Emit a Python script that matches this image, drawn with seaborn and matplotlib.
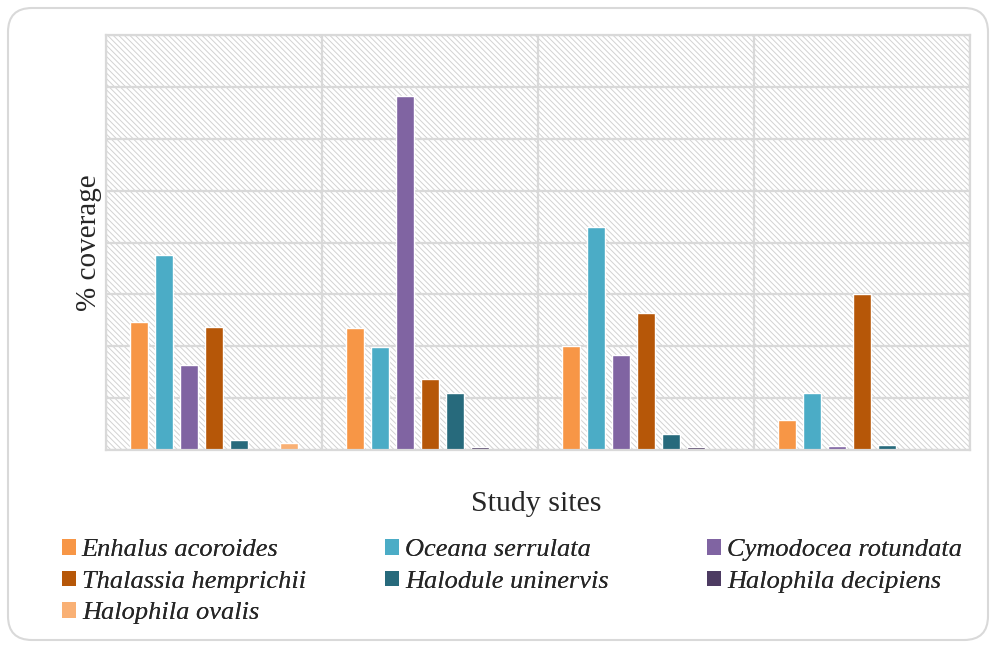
import matplotlib
matplotlib.use("Agg")
import matplotlib.pyplot as plt
from matplotlib.patches import Rectangle, FancyBboxPatch, Patch
from matplotlib.transforms import IdentityTransform
import seaborn as sns
import pandas as pd

sites = ["Site 1", "Site 2", "Site 3", "Site 4"]
species = ["Enhalus acoroides", "Oceana serrulata", "Cymodocea rotundata",
           "Thalassia hemprichii", "Halodule uninervis", "Halophila decipiens",
           "Halophila ovalis"]
colors = ["#F79646", "#4BACC6", "#8064A2", "#B65708", "#276A7C", "#4D3B62", "#F9B074"]

enhalus = [24.7, 23.5, 20.0, 5.8]
oceana = [37.6, 19.9, 43.0, 11.0]
cymodocea = [16.4, 68.2, 18.3, 0.8]
thalassia = [23.7, 13.7, 26.4, 30.1]
halodule = [1.9, 11.0, 3.1, 1.0]
decipiens = [0.0, 0.5, 0.5, 0.0]
ovalis = [1.4, 0.0, 0.0, 0.0]
series = [enhalus, oceana, cymodocea, thalassia, halodule, decipiens, ovalis]

rows = []
for sp, vals in zip(species, series):
    for s, v in zip(sites, vals):
        rows.append({"site": s, "species": sp, "cover": v})
df = pd.DataFrame(rows)

sns.set_theme(style="white")
plt.rcParams["font.family"] = ["Liberation Serif", "DejaVu Serif"]
plt.rcParams["hatch.linewidth"] = 0.7
plt.rcParams["hatch.color"] = "#d2d2d2"

fig = plt.figure(figsize=(9.92, 6.45), dpi=100)
ax = fig.add_axes([106/992, 1-450/645, 864/992, 415/645])

ax.add_patch(Rectangle((0, 0), 1, 1, transform=ax.transAxes, facecolor="white",
                       edgecolor="#d2d2d2", hatch="\\\\\\\\\\\\", lw=0, zorder=0))

sns.barplot(data=df, x="site", y="cover", hue="species", hue_order=species,
            palette=colors, width=0.81, gap=0.3, ax=ax, legend=False,
            saturation=1, zorder=2)

ax.set_ylim(0, 80)
ax.set_xlim(-0.5, 3.5)
ax.set_yticks(range(0, 81, 10))
ax.set_xticks([-0.5, 0.5, 1.5, 2.5, 3.5])
ax.set_xticklabels([])
ax.set_yticklabels([])
ax.tick_params(length=0)
ax.grid(True, color="#d9d9d9", lw=1.6, zorder=1)
ax.set_axisbelow(True)
for sp in ax.spines.values():
    sp.set_color("#d9d9d9")
    sp.set_linewidth(1.6)
ax.set_xlabel("")
ax.set_ylabel("")

fig.text(89/992, 1-243/645, "% coverage", rotation=90, ha="center", va="center", fontsize=21)
fig.text(536/992, 1-504/645, "Study sites", ha="center", va="center", fontsize=21.5)

# legend: three columns positioned as in reference
col_groups = [[0, 3, 6], [1, 4], [2, 5]]
col_x = [62, 385, 707]
for gi, (grp, x) in enumerate(zip(col_groups, col_x)):
    handles = [Patch(facecolor=colors[i], edgecolor="none") for i in grp]
    labels = [species[i] for i in grp]
    leg = fig.legend(handles, labels, loc="upper left",
                     bbox_to_anchor=(x/992, 1-539/645), frameon=False,
                     prop={"family": ["Liberation Serif"], "style": "italic", "size": 19},
                     handlelength=0.53, handleheight=0.53, handletextpad=0.22,
                     labelspacing=0.36, borderaxespad=0, borderpad=0)
    fig.add_artist(leg)

fig.patches.append(FancyBboxPatch((8, 5), 980, 632,
                                  boxstyle="round,pad=0,rounding_size=24",
                                  transform=IdentityTransform(), facecolor="none",
                                  edgecolor="#d9d9d9", lw=1.5, figure=fig))

fig.savefig("out.png", dpi=100)
